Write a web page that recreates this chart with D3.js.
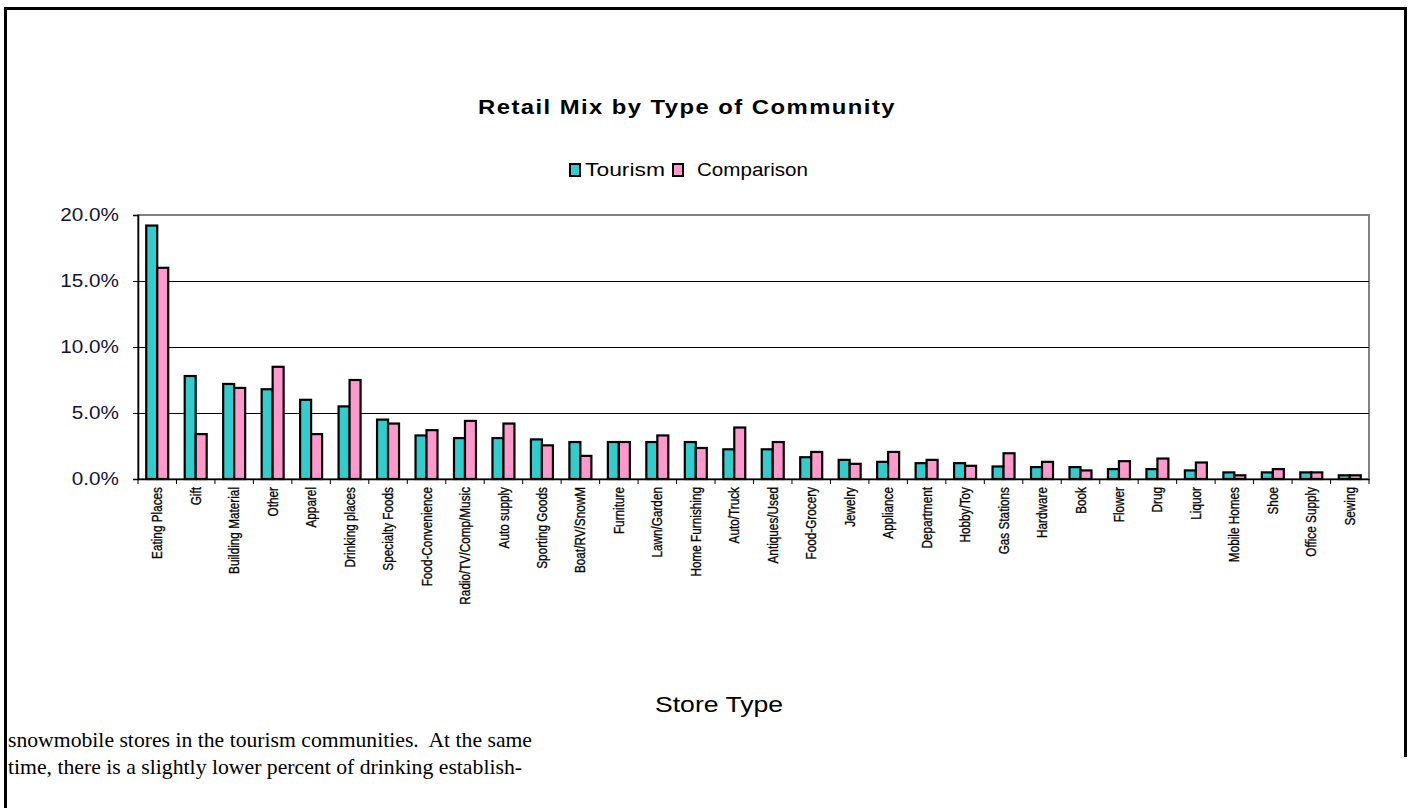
<!DOCTYPE html>
<html>
<head>
<meta charset="utf-8">
<title>Retail Mix by Type of Community</title>
<script src="https://d3js.org/d3.v7.min.js"></script>
<style>
  body { margin: 0; background: #fff; }
  svg { display: block; }
  .sans { font-family: 'Liberation Sans', Arial, sans-serif; }
  .serif { font-family: 'Liberation Serif', 'Times New Roman', serif; white-space: pre; }
</style>
</head>
<body>
<div id="chart"></div>
<script>
// data (percent of stores)
var categories = ['Eating Places', 'Gift', 'Building Material', 'Other', 'Apparel', 'Drinking places',
  'Specialty Foods', 'Food-Convenience', 'Radio/TV/Comp/Music', 'Auto supply', 'Sporting Goods',
  'Boat/RV/SnowM', 'Furniture', 'Lawn/Garden', 'Home Furnishing', 'Auto/Truck', 'Antiques/Used',
  'Food-Grocery', 'Jewelry', 'Appliance', 'Department', 'Hobby/Toy', 'Gas Stations', 'Hardware',
  'Book', 'Flower', 'Drug', 'Liquor', 'Mobile Homes', 'Shoe', 'Office Supply', 'Sewing'];
var tourism = [19.2, 7.8, 7.2, 6.8, 6.0, 5.5, 4.5, 3.3, 3.1, 3.1, 3.0, 2.8, 2.8, 2.8, 2.8, 2.25,
  2.25, 1.65, 1.45, 1.3, 1.2, 1.2, 0.95, 0.9, 0.9, 0.75, 0.75, 0.65, 0.5, 0.5, 0.5, 0.28];
var comparison = [16.0, 3.4, 6.9, 8.5, 3.4, 7.5, 4.2, 3.7, 4.4, 4.2, 2.55, 1.75, 2.8, 3.3, 2.35, 3.9,
  2.8, 2.05, 1.15, 2.05, 1.45, 1.0, 1.95, 1.3, 0.65, 1.35, 1.55, 1.25, 0.28, 0.75, 0.5, 0.28];
var seriesNames = ['Tourism', 'Comparison'];
var seriesColors = ['#33CCCC', '#FF99CC'];
var yTicks = [0, 5, 10, 15, 20];

var width = 1411, height = 808;
var plot = { left: 138, right: 1369, top: 215, bottom: 479 };

var svg = d3.select('#chart').append('svg')
  .attr('width', width).attr('height', height);

// scale text along its length, the original was rendered with odd proportions
function stretch(sel, k) {
  sel.each(function() {
    var len = this.getComputedTextLength();
    d3.select(this).attr('textLength', len * k).attr('lengthAdjust', 'spacingAndGlyphs');
  });
}

// outer frame
svg.append('path')
  .attr('d', 'M5.5,808 V8.5 H1405.5 V757')
  .style('fill', 'none').style('stroke', '#000').style('stroke-width', 3);

var x0 = d3.scaleBand().domain(categories).range([plot.left, plot.right]).padding(0);
var x1 = d3.scaleBand().domain(seriesNames).range([0, x0.bandwidth()])
  .paddingInner(0).paddingOuter(0.75);
var y = d3.scaleLinear().domain([0, 20]).range([plot.bottom, plot.top]);

// plot border
svg.append('rect')
  .attr('x', plot.left).attr('y', plot.top)
  .attr('width', plot.right - plot.left).attr('height', plot.bottom - plot.top)
  .style('fill', 'none').style('stroke', '#808080').style('stroke-width', 2);

// gridlines
svg.append('g').selectAll('line')
  .data(yTicks.filter(function(d) { return d > 0 && d < 20; }))
  .join('line')
  .attr('x1', plot.left).attr('x2', plot.right)
  .attr('y1', function(d) { return Math.round(y(d)) + 0.5; })
  .attr('y2', function(d) { return Math.round(y(d)) + 0.5; })
  .style('stroke', '#000').style('stroke-width', 1);

// bars
var rows = categories.map(function(c, i) {
  return { cat: c, values: [tourism[i], comparison[i]] };
});
var groups = svg.append('g').selectAll('g')
  .data(rows).join('g')
  .attr('transform', function(d) { return 'translate(' + x0(d.cat) + ',0)'; });
groups.selectAll('rect')
  .data(function(d) { return d.values.map(function(v, j) { return { s: seriesNames[j], v: v, j: j }; }); })
  .join('rect')
  .attr('x', function(d) { return x1(d.s); })
  .attr('y', function(d) { return y(d.v); })
  .attr('width', x1.bandwidth())
  .attr('height', function(d) { return y(0) - y(d.v); })
  .style('fill', function(d) { return seriesColors[d.j]; })
  .style('stroke', '#000').style('stroke-width', 2.2);

// y axis
var yAxis = svg.append('g')
  .attr('class', 'sans')
  .attr('transform', 'translate(' + plot.left + ',0)')
  .call(d3.axisLeft(y).tickValues(yTicks).tickSize(5).tickPadding(14)
    .tickFormat(function(d) { return d.toFixed(1) + '%'; }));
yAxis.select('.domain').style('stroke', '#000').style('stroke-width', 1.5);
yAxis.selectAll('.tick line').style('stroke', '#000');
yAxis.selectAll('.tick text')
  .style('font-size', '18px').style('fill', '#141432');
stretch(yAxis.selectAll('.tick text'), 1.15);

// x axis
var xAxis = svg.append('g')
  .attr('class', 'sans')
  .attr('transform', 'translate(0,' + plot.bottom + ')')
  .call(d3.axisBottom(x0).tickSize(0).tickFormat(''));
xAxis.select('.domain').style('stroke', '#000').style('stroke-width', 1.5);
xAxis.selectAll('.tick').remove();

// category boundary ticks
svg.append('g').selectAll('line')
  .data(categories.concat(['end']))
  .join('line')
  .attr('x1', function(d, i) { return x0.range()[0] + i * x0.step(); })
  .attr('x2', function(d, i) { return x0.range()[0] + i * x0.step(); })
  .attr('y1', plot.bottom).attr('y2', plot.bottom + 5)
  .style('stroke', '#000').style('stroke-width', 1);

// rotated category labels
var xLabels = svg.append('g').attr('class', 'sans').selectAll('text')
  .data(categories).join('text')
  .attr('transform', function(d) {
    return 'translate(' + (x0(d) + x0.bandwidth() / 2) + ',487) rotate(-90)';
  })
  .attr('text-anchor', 'end')
  .attr('dy', '0.36em')
  .style('font-size', '14px')
  .style('fill', '#000')
  .style('stroke', '#000').style('stroke-width', 0.3)
  .text(function(d) { return d; });
stretch(xLabels, 0.84);

// title
svg.append('text')
  .attr('class', 'sans')
  .attr('x', 478).attr('y', 114)
  .attr('textLength', 418).attr('lengthAdjust', 'spacingAndGlyphs')
  .style('font-size', '20px').style('font-weight', 'bold').style('letter-spacing', '1.2px')
  .text('Retail Mix by Type of Community');

// legend
var legendX = [570, 673];
var legendTextX = [585, 697];
var legendTextW = [80, 111];
seriesNames.forEach(function(name, i) {
  svg.append('rect')
    .attr('x', legendX[i]).attr('y', 164)
    .attr('width', 10).attr('height', 12)
    .style('fill', seriesColors[i]).style('stroke', '#000').style('stroke-width', 2);
  svg.append('text')
    .attr('class', 'sans')
    .attr('x', legendTextX[i]).attr('y', 176)
    .attr('textLength', legendTextW[i]).attr('lengthAdjust', 'spacingAndGlyphs')
    .style('font-size', '18px')
    .text(name);
});

// axis title
svg.append('text')
  .attr('class', 'sans')
  .attr('x', 655).attr('y', 712)
  .attr('textLength', 128).attr('lengthAdjust', 'spacingAndGlyphs')
  .style('font-size', '22px')
  .text('Store Type');

// document text below the chart
svg.append('text')
  .attr('class', 'serif')
  .attr('x', 8).attr('y', 747)
  .attr('textLength', 524).attr('lengthAdjust', 'spacingAndGlyphs')
  .style('font-size', '21px')
  .text('snowmobile stores in the tourism communities.  At the same');
svg.append('text')
  .attr('class', 'serif')
  .attr('x', 8).attr('y', 774)
  .attr('textLength', 514).attr('lengthAdjust', 'spacingAndGlyphs')
  .style('font-size', '21px')
  .text('time, there is a slightly lower percent of drinking establish-');
</script>
</body>
</html>
